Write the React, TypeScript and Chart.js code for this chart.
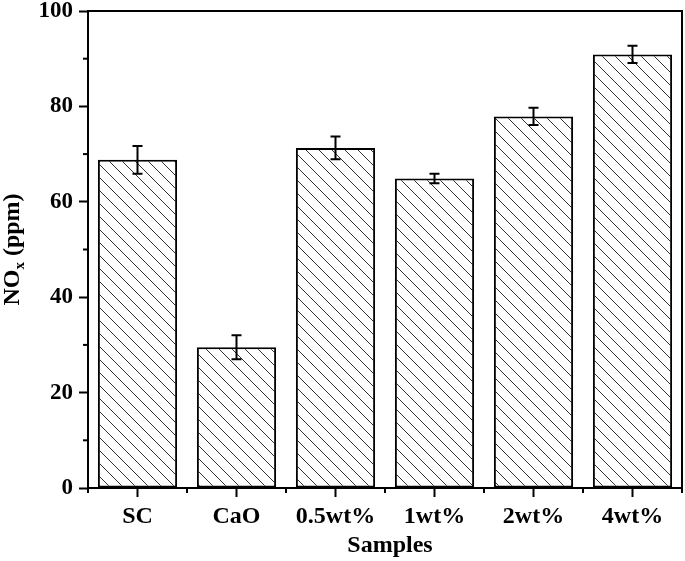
import React, { useEffect, useRef } from "react";
import { Chart, registerables } from "chart.js";

Chart.register(...registerables);

const categories = ["SC", "CaO", "0.5wt%", "1wt%", "2wt%", "4wt%"];
const noxValues = [68.8, 29.5, 71.3, 64.9, 77.9, 90.9];
const noxErrors = [2.9, 2.5, 2.4, 1.0, 1.8, 1.8];
const yMajorTicks = [0, 20, 40, 60, 80, 100];
const yMinorTicks = [10, 30, 50, 70, 90];

const FONT = "'Liberation Serif', 'Times New Roman', serif";

function makeHatch(): CanvasPattern | string {
  const s = 13;
  const c = document.createElement("canvas");
  c.width = s;
  c.height = s;
  const ctx = c.getContext("2d");
  if (!ctx) return "#fff";
  ctx.fillStyle = "#fff";
  ctx.fillRect(0, 0, s, s);
  ctx.strokeStyle = "#333";
  ctx.lineWidth = 1;
  for (const k of [-s, 0, s]) {
    ctx.beginPath();
    ctx.moveTo(k - 1, -1);
    ctx.lineTo(k + s + 1, s + 1);
    ctx.stroke();
  }
  const p = ctx.createPattern(c, "repeat");
  return p || "#fff";
}

const decorPlugin = {
  id: "decor",
  afterDatasetsDraw(chart: any) {
    const ctx = chart.ctx;
    const { left, right, top, bottom } = chart.chartArea;
    const yScale = chart.scales.y;
    const meta = chart.getDatasetMeta(0);
    ctx.save();
    ctx.strokeStyle = "#000";
    ctx.lineWidth = 2;
    meta.data.forEach((bar: any, i: number) => {
      const x = bar.x;
      const yT = yScale.getPixelForValue(noxValues[i] + noxErrors[i]);
      const yB = yScale.getPixelForValue(noxValues[i] - noxErrors[i]);
      ctx.beginPath();
      ctx.moveTo(x, yT);
      ctx.lineTo(x, yB);
      ctx.moveTo(x - 5, yT);
      ctx.lineTo(x + 5, yT);
      ctx.moveTo(x - 5, yB);
      ctx.lineTo(x + 5, yB);
      ctx.stroke();
    });
    ctx.beginPath();
    ctx.moveTo(left, top);
    ctx.lineTo(right, top);
    ctx.lineTo(right, bottom);
    ctx.stroke();
    yMinorTicks.forEach((v) => {
      const y = yScale.getPixelForValue(v);
      ctx.beginPath();
      ctx.moveTo(left, y);
      ctx.lineTo(left - 5, y);
      ctx.stroke();
    });
    const n = categories.length;
    const w = (right - left) / n;
    for (let i = 0; i <= n; i++) {
      const x = left + i * w;
      ctx.beginPath();
      ctx.moveTo(x, bottom);
      ctx.lineTo(x, bottom + 5);
      ctx.stroke();
    }
    ctx.fillStyle = "#000";
    ctx.font = `bold 24px ${FONT}`;
    ctx.textAlign = "center";
    ctx.textBaseline = "middle";
    ctx.fillText("Samples", (left + right) / 2 + 5, 546);

    ctx.translate(13, (top + bottom) / 2);
    ctx.rotate(-Math.PI / 2);
    ctx.textAlign = "left";
    ctx.textBaseline = "middle";
    const big = `bold 24px ${FONT}`;
    const small = `bold 15px ${FONT}`;
    ctx.font = big;
    const wNO = ctx.measureText("NO").width;
    const wRest = ctx.measureText(" (ppm)").width;
    ctx.font = small;
    const wx = ctx.measureText("x").width;
    const total = wNO + wx + wRest;
    let cx = -total / 2;
    ctx.font = big;
    ctx.fillText("NO", cx, 0);
    cx += wNO;
    ctx.font = small;
    ctx.fillText("x", cx, 7);
    cx += wx;
    ctx.font = big;
    ctx.fillText(" (ppm)", cx, 0);
    ctx.restore();
  },
};

export default function App() {
  const ref = useRef<HTMLCanvasElement | null>(null);
  useEffect(() => {
    if (!ref.current) return;
    const hatch = makeHatch();
    const chart = new Chart(ref.current, {
      type: "bar",
      data: {
        labels: categories,
        datasets: [
          {
            data: noxValues,
            backgroundColor: hatch as any,
            borderColor: "#000",
            borderWidth: 2,
            borderSkipped: false,
            barPercentage: 0.8,
            categoryPercentage: 1.0,
          },
        ],
      },
      options: {
        responsive: false,
        animation: false,
        maintainAspectRatio: false,
        layout: { padding: { top: 11, right: 3, left: 0, bottom: 0 } },
        plugins: {
          legend: { display: false },
          tooltip: { enabled: false },
        },
        scales: {
          x: {
            type: "category",
            offset: true,
            grid: {
              display: true,
              drawOnChartArea: false,
              offset: false,
              drawTicks: true,
              tickLength: 9,
              tickWidth: 2,
              tickColor: "#000",
            },
            border: { display: true, width: 2, color: "#000" },
            ticks: {
              color: "#000",
              font: { family: FONT, size: 24, weight: "bold" },
              padding: 5,
              maxRotation: 0,
              autoSkip: false,
            },
            afterFit: (s: any) => {
              s.height = 73;
              s.paddingLeft = 0;
              s.paddingRight = 0;
            },
          },
          y: {
            min: 0,
            max: 100,
            afterBuildTicks: (s: any) => {
              s.ticks = yMajorTicks.map((v) => ({ value: v }));
            },
            grid: {
              display: true,
              drawOnChartArea: false,
              drawTicks: true,
              tickLength: 9,
              tickWidth: 2,
              tickColor: "#000",
            },
            border: { display: true, width: 2, color: "#000" },
            ticks: {
              color: "#000",
              font: { family: FONT, size: 23, weight: "bold" },
              padding: 6,
            },
            afterFit: (s: any) => {
              s.width = 88;
              s.paddingTop = 0;
              s.paddingBottom = 0;
            },
          },
        },
      },
      plugins: [decorPlugin],
    });
    return () => chart.destroy();
  }, []);
  return (
    <div style={{ position: "absolute", left: 0, top: 0, width: 685, height: 561, background: "#fff" }}>
      <canvas ref={ref} width={685} height={561} style={{ display: "block" }} />
    </div>
  );
}
